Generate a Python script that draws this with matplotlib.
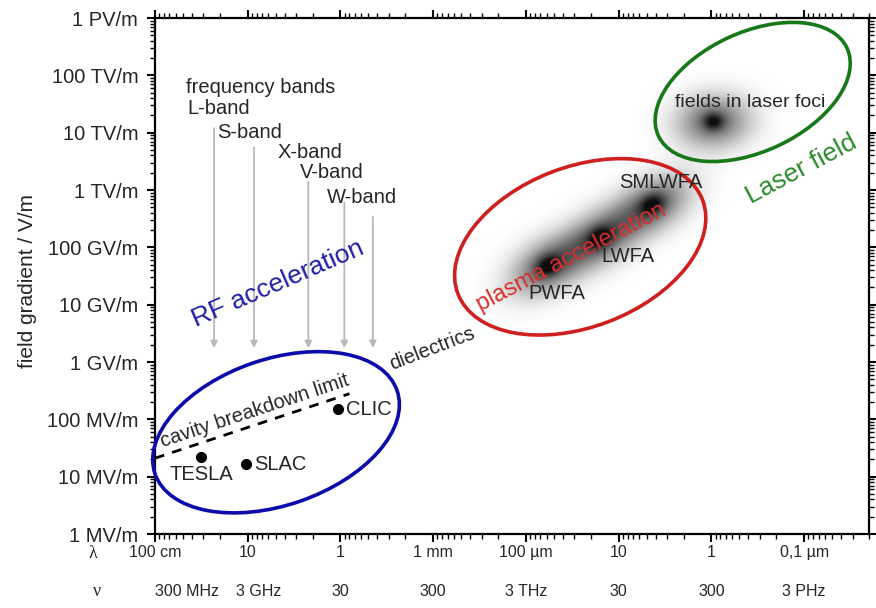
#!/usr/bin/python3

import numpy as np
import matplotlib
matplotlib.use('Agg')
import matplotlib.pyplot as plt
from matplotlib import transforms, font_manager
from matplotlib.patches import Ellipse
from matplotlib.ticker import FixedLocator, LogLocator, NullFormatter

C = 2.998e8  # speed of light, m/s

# x axis is the wavelength in m (decreasing to the right), y axis the gradient in V/m
wavelength_ticks = [1.0, 0.1, 0.01, 1e-3, 1e-4, 1e-5, 1e-6, 1e-7]
wavelength_labels = ['100 cm', '10', '1', '1 mm', '100 µm', '10', '1', '0,1 µm']
frequency_labels = ['300 MHz', '3 GHz', '30', '300', '3 THz', '30', '300', '3 PHz']
gradient_ticks = [1e6, 1e7, 1e8, 1e9, 1e10, 1e11, 1e12, 1e13, 1e14, 1e15]
gradient_labels = ['1 MV/m', '10 MV/m', '100 MV/m', '1 GV/m', '10 GV/m',
                   '100 GV/m', '1 TV/m', '10 TV/m', '100 TV/m', '1 PV/m']

# RF machines
machine_names = ['TESLA', 'SLAC', 'CLIC']
machine_wavelength = [0.32, 0.105, 0.0106]
machine_gradient = [22e6, 16.5e6, 150e6]

# cavity breakdown limit (end points)
breakdown_wavelength = [1.0, 0.008]
breakdown_gradient = [21e6, 280e6]

# microwave bands, arrows run down to the RF region
band_names = ['L-band', 'S-band', 'X-band', 'V-band', 'W-band']
band_freq_ghz = [1.3, 3.5, 13.5, 33, 67]
band_top_gradient = [1.2e13, 5.5e12, 1.4e12, 6.0e11, 3.4e11]
band_end_gradient = 1.75e9

# plasma wakefield spots and the laser focus
plasma_names = ['PWFA', 'LWFA', 'SMLWFA']
plasma_wavelength = [5.8e-5, 1.58e-5, 4.35e-6]
plasma_gradient = [4.75e10, 1.47e11, 5.5e11]
plasma_label_wavelength = [4.6e-5, 7.9e-6, 3.48e-6]
plasma_label_gradient = [1.54e10, 6.8e10, 1.34e12]
laser_wavelength = [9.5e-7]
laser_gradient = [1.56e13]

# regions: RF, plasma, laser
region_names = ['RF acceleration', 'plasma acceleration', 'Laser field']
region_wavelength = [0.0495, 2.6e-5, 3.59e-7]
region_gradient = [5.95e7, 1.02e11, 5.13e13]
region_label_wavelength = [0.0471, 3.25e-5, 1.07e-7]
region_label_gradient = [2.3e10, 6.5e10, 2.26e12]


def narrow_font():
	''' Condensed face for the wavelength / frequency rows if it is there'''
	names = {f.name for f in font_manager.fontManager.ttflist}
	if 'Liberation Sans Narrow' in names:
		return 'Liberation Sans Narrow', 13
	return 'Liberation Sans', 11.5


def to_axes_px(ax, lam, grad):
	x, y = ax.transData.transform((lam, grad))
	x0, y0 = ax.transAxes.transform((0, 0))
	return x - x0, y - y0


def spot(xx, yy, cx, cy, sa, sb, angle):
	t = np.radians(angle)
	dx, dy = xx - cx, yy - cy
	u = dx * np.cos(t) + dy * np.sin(t)
	v = -dx * np.sin(t) + dy * np.cos(t)
	return np.exp(-0.5 * (u**2 / sa**2 + v**2 / sb**2))


def draw_spots(ax):
	''' Grey hazy spots for plasma accelerators and laser foci'''
	w, h = int(round(ax.bbox.width)), int(round(ax.bbox.height))
	yy, xx = np.mgrid[0:h, 0:w] + 0.5
	dark = np.zeros((h, w))

	for lam, e in zip(plasma_wavelength, plasma_gradient):
		cx, cy = to_axes_px(ax, lam, e)
		dark += 0.6 * spot(xx, yy, cx, cy, 28, 17, 30)
		dark += 0.4 * spot(xx, yy, cx, cy, 9, 7, 30)

	for lam, e in zip(laser_wavelength, laser_gradient):
		cx, cy = to_axes_px(ax, lam, e)
		dark += 0.6 * spot(xx, yy, cx, cy, 25, 18, 5)
		dark += 0.4 * spot(xx, yy, cx, cy, 7, 6, 0)

	rgba = np.zeros((h, w, 4))
	rgba[..., 3] = np.clip(dark, 0, 0.95)
	ax.imshow(rgba, extent=(0, 1, 0, 1), transform=ax.transAxes, origin='lower',
		aspect='auto', interpolation='bilinear', zorder=0)


def region_ellipse(fig, ax, lam, grad, width, height, angle, color):
	''' Ellipse sized in pixels, centred on a data point'''
	trans = fig.dpi_scale_trans + transforms.ScaledTranslation(lam, grad, ax.transData)
	e = Ellipse((0, 0), width / fig.dpi, height / fig.dpi, angle=angle, fill=False,
		edgecolor=color, lw=2.6, transform=trans, clip_on=False, zorder=3)
	ax.add_artist(e)


def main():
	plt.rcParams['font.family'] = ['Liberation Sans', 'DejaVu Sans']
	text_color = '#262626'

	fig = plt.figure(figsize=(8.76, 6.08), dpi=100)
	ax = fig.add_axes([155 / 876, 1 - 534 / 608, 714 / 876, 516 / 608])
	ax.set_autoscale_on(False)
	ax.set_xscale('log')
	ax.set_yscale('log')
	ax.set_xlim(1.0, 2e-8)
	ax.set_ylim(1e6, 1e15)

	# ticks on all four sides, labels only left and bottom
	ax.xaxis.set_major_locator(FixedLocator(wavelength_ticks))
	ax.yaxis.set_major_locator(FixedLocator(gradient_ticks))
	ax.xaxis.set_minor_locator(LogLocator(base=10, subs=np.arange(2, 10), numticks=100))
	ax.yaxis.set_minor_locator(LogLocator(base=10, subs=np.arange(2, 10), numticks=100))
	ax.xaxis.set_minor_formatter(NullFormatter())
	ax.yaxis.set_minor_formatter(NullFormatter())

	nfam, nsize = narrow_font()
	ax.set_xticklabels(wavelength_labels, fontsize=nsize, family=nfam, color=text_color)
	ax.set_yticklabels(gradient_labels, fontsize=14.5, color=text_color)
	ax.tick_params(which='both', top=True, right=True, direction='out')
	ax.tick_params(which='major', length=6, width=1.5)
	ax.tick_params(which='minor', length=3.5, width=1)
	ax.tick_params(axis='y', which='major', pad=6)
	ax.tick_params(axis='x', which='major', pad=2)
	for s in ax.spines.values():
		s.set_linewidth(1.6)

	ax.set_ylabel('field gradient / V/m', fontsize=15, color=text_color)
	ax.yaxis.set_label_coords(-0.165, 0.49)

	# frequency row under the wavelength row
	xt = ax.get_xaxis_transform()
	for i, (lam, lab) in enumerate(zip(wavelength_ticks, frequency_labels)):
		ax.annotate(lab, xy=(lam, -0.112), xycoords=xt,
			xytext=(8 if i == 1 else 0, 0), textcoords='offset points',
			ha='left' if i == 0 else 'center', va='center',
			fontsize=nsize, family=nfam, color=text_color, annotation_clip=False)
	ax.text(-0.087, -0.037, 'λ', transform=ax.transAxes, ha='center', va='center',
		fontsize=13, family='Liberation Serif', color=text_color)
	ax.text(-0.081, -0.112, 'ν', transform=ax.transAxes, ha='center', va='center',
		fontsize=13, family='Liberation Serif', color=text_color)

	draw_spots(ax)

	# region outlines
	region_ellipse(fig, ax, region_wavelength[0], region_gradient[0], 256, 146, 19, '#0c0caa')
	region_ellipse(fig, ax, region_wavelength[1], region_gradient[1], 262, 160, 21, '#cf1f1f')
	region_ellipse(fig, ax, region_wavelength[2], region_gradient[2], 208, 119, 25, '#17781a')

	ax.text(region_label_wavelength[0], region_label_gradient[0], region_names[0],
		rotation=23.5, ha='center', va='center', fontsize=19, color='#1f1fa6', zorder=5)
	ax.text(region_label_wavelength[1], region_label_gradient[1], region_names[1],
		rotation=27.5, ha='center', va='center', fontsize=17, color='#d6302f', zorder=5)
	ax.text(region_label_wavelength[2], region_label_gradient[2], region_names[2],
		rotation=28, ha='center', va='center', fontsize=19, color='#2c8a2c', zorder=5)

	# microwave bands
	ax.text(0.0434, 0.866, 'frequency bands', transform=ax.transAxes, ha='left',
		va='center', fontsize=14.5, color=text_color)
	band_label_pos = [(0.0448, 0.824), (0.0868, 0.779), (0.172, 0.740), (0.203, 0.700), (0.241, 0.653)]
	for name, (bx, by) in zip(band_names, band_label_pos):
		ax.text(bx, by, name, transform=ax.transAxes, ha='left', va='center',
			fontsize=14.5, color=text_color)
	for f, top in zip(band_freq_ghz, band_top_gradient):
		lam = C / (f * 1e9)
		ax.annotate('', xy=(lam, band_end_gradient), xytext=(lam, top),
			arrowprops=dict(arrowstyle='-|>', color='#b8b8b8', lw=1.3,
				mutation_scale=10, shrinkA=0, shrinkB=0), zorder=2)

	# cavity breakdown limit
	ax.plot(breakdown_wavelength, breakdown_gradient, color='k', lw=2,
		dashes=(3.5, 3), zorder=4)
	p0 = ax.transData.transform((breakdown_wavelength[0], breakdown_gradient[0]))
	p1 = ax.transData.transform((breakdown_wavelength[1], breakdown_gradient[1]))
	slope = np.degrees(np.arctan2(p1[1] - p0[1], p1[0] - p0[0]))
	mid = (np.sqrt(breakdown_wavelength[0] * breakdown_wavelength[1]),
		np.sqrt(breakdown_gradient[0] * breakdown_gradient[1]))
	ax.annotate('cavity breakdown limit', xy=mid, xytext=(4, 4), textcoords='offset points',
		rotation=slope, rotation_mode='anchor', ha='center', va='bottom',
		fontsize=14.5, color=text_color, zorder=5)

	# RF machines
	ax.plot(machine_wavelength, machine_gradient, 'o', color='k', ms=7, zorder=5)
	label_offsets = [((0, -6), 'center', 'top'), ((6, 0), 'left', 'center'), ((6, 0), 'left', 'center')]
	for name, lam, e, (off, ha, va) in zip(machine_names, machine_wavelength, machine_gradient, label_offsets):
		ax.annotate(name, xy=(lam, e), xytext=off, textcoords='offset points',
			ha=ha, va=va, fontsize=14.5, color=text_color, zorder=5)

	ax.text(1.03e-3, 1.68e9, 'dielectrics', rotation=21, ha='center', va='center',
		fontsize=14.5, color=text_color, zorder=5)

	# plasma and laser labels
	for name, lam, e in zip(plasma_names, plasma_label_wavelength, plasma_label_gradient):
		ax.text(lam, e, name, ha='center', va='center', fontsize=14.5, color=text_color, zorder=5)
	ax.text(3.8e-7, 3.36e13, 'fields in laser foci', ha='center', va='center',
		fontsize=14, color=text_color, zorder=5)

	ax.set_xlim(1.0, 2e-8)
	ax.set_ylim(1e6, 1e15)

	fig.savefig('out.png', dpi=100)
	plt.close()

	return


if __name__ == '__main__':
	main()
